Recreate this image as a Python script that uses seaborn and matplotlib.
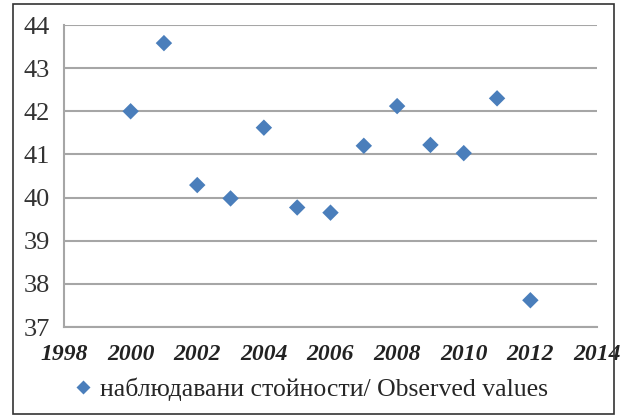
import matplotlib
matplotlib.use("Agg")
import matplotlib.pyplot as plt
import seaborn as sns
import pandas as pd
from matplotlib.patches import Rectangle

years = [2000, 2001, 2002, 2003, 2004, 2005, 2006, 2007, 2008, 2009, 2010, 2011, 2012]
values = [42.0, 43.58, 40.29, 39.98, 41.62, 39.77, 39.65, 41.2, 42.12, 41.22, 41.03, 42.3, 37.62]
series_name = "наблюдавани стойности/ Observed values"
x_ticks = [1998, 2000, 2002, 2004, 2006, 2008, 2010, 2012, 2014]
y_ticks = [37, 38, 39, 40, 41, 42, 43, 44]

df = pd.DataFrame({"year": years, "value": values, "series": series_name})

sns.set_style("white")
plt.rcParams["font.family"] = ["Liberation Serif", "DejaVu Serif"]

fig = plt.figure(figsize=(6.22, 4.16), dpi=100)
ax = fig.add_axes([64/622, 89/416, (597-64)/622, (327-25)/416])

sns.scatterplot(data=df, x="year", y="value", hue="series", palette=["#4a7ebb"],
                marker="D", s=70, edgecolor="none", ax=ax, zorder=3)

ax.set_xlim(1998, 2014)
ax.set_ylim(37, 44)
ax.set_xticks(x_ticks)
ax.set_yticks(y_ticks)
ax.set_xticklabels([str(t) for t in x_ticks], fontsize=17, fontweight="bold", fontstyle="italic", color="#222222")
ax.set_yticklabels([str(t) for t in y_ticks], fontsize=19, color="#333333")
ax.set_xlabel("")
ax.set_ylabel("")

grid_c = "#a6a6a6"
ax.yaxis.grid(True, color=grid_c, linewidth=1.5, zorder=0)
ax.xaxis.grid(False)
for s in ["top", "right"]:
    ax.spines[s].set_visible(False)
for s in ["left", "bottom"]:
    ax.spines[s].set_color(grid_c)
    ax.spines[s].set_linewidth(1.5)
ax.tick_params(axis="both", which="both", direction="out", length=5, width=1.5, color=grid_c)
ax.tick_params(axis="x", pad=7)
ax.tick_params(axis="y", pad=5)

if ax.get_legend() is not None:
    ax.get_legend().remove()
handles, labels = ax.get_legend_handles_labels()
fig.legend(handles, labels, loc="center", bbox_to_anchor=(311/622, 1 - 389/416),
           frameon=False, fontsize=18.5, handlelength=0.7, handletextpad=0.3, markerscale=0.85)

fig.patches.append(Rectangle((13/622, 2/416), (614-13)/622, (412-2)/416, transform=fig.transFigure,
                             fill=False, edgecolor="#333333", linewidth=1.2))

fig.savefig("out.png", dpi=100)
